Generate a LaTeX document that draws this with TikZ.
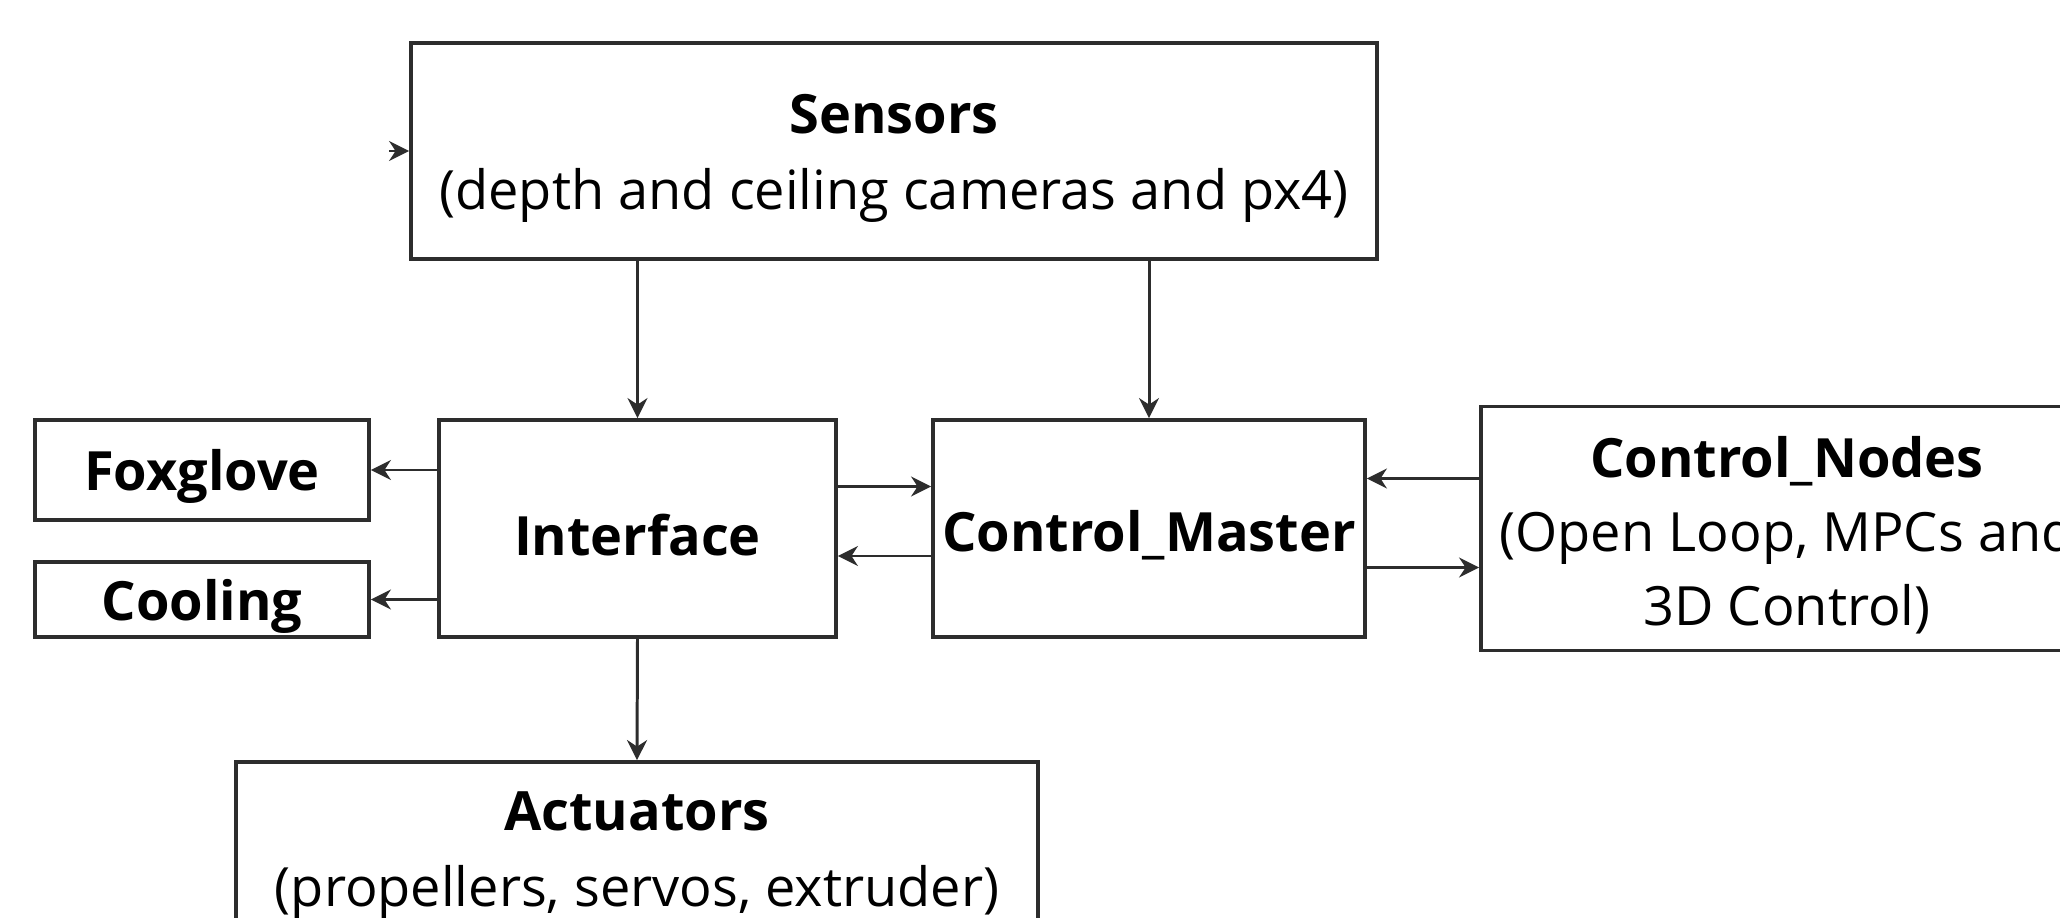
\documentclass[tikz,border=0pt]{standalone}
\usepackage{fontspec}
\setmainfont{Open Sans}
\usepackage{tikz}
\usetikzlibrary{
  arrows.meta,
  positioning
}
\definecolor{linegray}{RGB}{45,45,45}
% taller first line, so the text sits a little low in its box
\newcommand{\headstrut}{\rule{0pt}{15.5pt}}
\tikzset{
  blockbox/.style={
    draw=linegray,
    line width=1.1pt,
    align=center,
    inner sep=0pt,
    font=\fontsize{15.4}{21.5}\selectfont
  },
  sidebox/.style={blockbox,minimum width=33.4mm},
  sigarrow/.style={-{Stealth[length=2mm,width=2mm]},line width=0.85pt,draw=linegray}
}

\begin{document}
\begin{tikzpicture}[x=1cm,y=1cm]
  \useasboundingbox (0,0) rectangle (20.6,-9.18);

  \node[blockbox,minimum width=96.6mm,minimum height=21.6mm] (sensors) at (8.94,-1.51)
    {\headstrut\textbf{Sensors}\\(depth and ceiling cameras and px4)};
  \node[sidebox,minimum height=10mm] (foxglove) at (2.02,-4.70) {\headstrut\textbf{Foxglove}};
  \node[sidebox,minimum height=7.5mm] (cooling) at (2.02,-5.995) {\headstrut\textbf{Cooling}};
  \node[blockbox,minimum width=39.7mm,minimum height=21.7mm] (interface) at (6.375,-5.285) {\headstrut\textbf{Interface}};
  \node[blockbox,minimum width=43.2mm,minimum height=21.7mm] (master) at (11.49,-5.285) {\headstrut\textbf{Control\_Master}};
  \node[blockbox,minimum width=61.2mm,minimum height=24.4mm,font=\fontsize{15.4}{21}\selectfont] (nodes) at (17.87,-5.285)
    {\headstrut\textbf{Control\_Nodes}\\(Open Loop, MPCs and\\3D Control)};
  \node[blockbox,minimum width=80.2mm,minimum height=17.2mm] (actuators) at (6.37,-8.48)
    {\headstrut\textbf{Actuators}\\(propellers, servos, extruder)};

  % stray tip on the sensors box
  \draw[sigarrow] ([xshift=-2mm]sensors.west) -- (sensors.west);

  \draw[sigarrow] (interface.north |- sensors.south) -- (interface.north);
  \draw[sigarrow] (master.north |- sensors.south) -- (master.north);
  \draw[sigarrow] (interface.west |- foxglove) -- (foxglove.east);
  \draw[sigarrow] (interface.west |- cooling) -- (cooling.east);
  \draw[sigarrow] ([yshift=4.2mm]interface.east) -- ([yshift=4.2mm]master.west);
  \draw[sigarrow] ([yshift=-2.75mm]master.west) -- ([yshift=-2.75mm]interface.east);
  \draw[sigarrow] ([yshift=5mm]nodes.west) -- ([yshift=5mm]master.east);
  \draw[sigarrow] ([yshift=-3.9mm]master.east) -- ([yshift=-3.9mm]nodes.west);
  \draw[sigarrow] (interface.south) -- (actuators.north);
\end{tikzpicture}
\end{document}
